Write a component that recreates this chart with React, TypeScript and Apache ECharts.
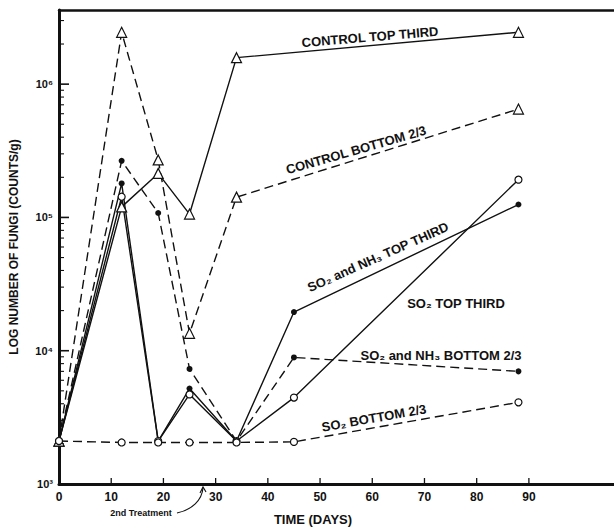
import React, { useEffect, useRef } from "react";
import * as echarts from "echarts";

// ---- data ----
const controlDays = [0, 12, 19, 25, 34, 88];
const treatedDays = [0, 12, 19, 25, 34, 45, 88];

const controlTop = [2100, 120000, 214000, 106000, 1580000, 2450000];
const controlBottom = [2100, 2450000, 270000, 13500, 142000, 650000];
const so2Nh3Top = [2100, 180000, 2100, 5200, 2100, 19500, 125000];
const so2Top = [2100, 143000, 2100, 4700, 2100, 4450, 192000];
const so2Nh3Bottom = [2100, 266000, 108000, 7300, 2100, 8900, 7000];
const so2Bottom = [2100, 2050, 2050, 2050, 2050, 2070, 4100];

const xTickDays = [10, 20, 30, 40, 50, 60, 70, 80, 90];
const yDecades = [1000, 10000, 100000, 1000000];
const yMinorMultipliers = [2, 3, 4, 5, 6, 7, 8, 9];

const Y_MIN = 1000;
const Y_MAX = 3600000;
const X_MAX = 106.3;

const FONT = "'Liberation Sans', Arial, Helvetica, sans-serif";
const INK = "#111";

const sup: Record<string, string> = { "3": "³", "4": "⁴", "5": "⁵", "6": "⁶" };

function pairs(xs: number[], ys: number[]) {
  return xs.map((x, i) => [x, ys[i]]);
}

export default function App() {
  const ref = useRef<HTMLDivElement>(null);

  useEffect(() => {
    if (!ref.current) return;
    const chart = echarts.init(ref.current, undefined, { renderer: "svg" });

    const solid = { color: INK, width: 1.4, type: "solid" as const };
    const dashed = { color: INK, width: 1.4, type: [9, 5] as any };
    const openTri = { symbol: "triangle", symbolSize: 10, itemStyle: { color: "#fff", borderColor: INK, borderWidth: 1.2 } };
    const openCirc = { symbol: "circle", symbolSize: 7, itemStyle: { color: "#fff", borderColor: INK, borderWidth: 1.2 } };
    const fillCirc = { symbol: "circle", symbolSize: 6, itemStyle: { color: INK, borderColor: INK, borderWidth: 0 } };

    // tick marks
    const yTicks: number[][] = [];
    yDecades.forEach((d) => {
      yTicks.push([0, d, 10]);
      yMinorMultipliers.forEach((m) => {
        const v = d * m;
        if (v < Y_MAX) yTicks.push([0, v, 5]);
      });
    });
    const xTicks = xTickDays.map((d) => [d, Y_MIN]);

    const textStyle = (t: string, size = 13) => ({
      text: t,
      fill: INK,
      font: `bold ${size}px ${FONT}`,
      align: "center",
      verticalAlign: "middle",
    });

    const deg = Math.PI / 180;

    chart.setOption({
      animation: false,
      backgroundColor: "#fff",
      grid: { left: 57, right: 0, top: 10, bottom: 44 },
      xAxis: [
        {
          type: "value",
          min: 0,
          max: X_MAX,
          interval: 10,
          splitLine: { show: false },
          axisTick: { show: false },
          axisLine: { show: true, lineStyle: { color: INK, width: 3 } },
          axisLabel: {
            color: INK,
            fontFamily: FONT,
            fontWeight: "bold",
            fontSize: 12,
            margin: 7,
            showMaxLabel: false,
            formatter: (v: number) => (v <= 90 ? String(v) : ""),
          },
        },
        {
          type: "value",
          position: "top",
          min: 0,
          max: X_MAX,
          splitLine: { show: false },
          axisTick: { show: false },
          axisLabel: { show: false },
          axisLine: { show: true, lineStyle: { color: INK, width: 2.5 } },
        },
      ],
      yAxis: {
        type: "log",
        logBase: 10,
        min: Y_MIN,
        max: Y_MAX,
        splitLine: { show: false },
        axisTick: { show: false },
        axisLine: { show: true, lineStyle: { color: INK, width: 3 } },
        axisLabel: {
          color: INK,
          fontFamily: FONT,
          fontWeight: "bold",
          fontSize: 11,
          margin: 6,
          showMaxLabel: false,
          formatter: (v: number) => {
            const e = Math.round(Math.log10(v));
            if (Math.abs(Math.log10(v) - e) > 0.01) return "";
            return "10" + (sup[String(e)] || "");
          },
        },
        name: "LOG NUMBER OF FUNGI (COUNTS/g)",
        nameLocation: "middle",
        nameGap: 39,
        nameRotate: 90,
        nameTextStyle: { color: INK, fontFamily: FONT, fontWeight: "bold", fontSize: 12 },
      },
      series: [
        {
          name: "yTicks",
          type: "custom",
          silent: true,
          data: yTicks,
          renderItem: (_p: any, api: any) => {
            const pt = api.coord([0, api.value(1)]);
            const len = api.value(2);
            return {
              type: "line",
              shape: { x1: pt[0], y1: pt[1], x2: pt[0] + len, y2: pt[1] },
              style: { stroke: INK, lineWidth: len > 6 ? 1.6 : 1.1 },
            };
          },
        },
        {
          name: "xTicks",
          type: "custom",
          silent: true,
          data: xTicks,
          renderItem: (_p: any, api: any) => {
            const pt = api.coord([api.value(0), Y_MIN]);
            return {
              type: "line",
              shape: { x1: pt[0], y1: pt[1], x2: pt[0], y2: pt[1] - 6 },
              style: { stroke: INK, lineWidth: 1.3 },
            };
          },
        },
        { name: "Control top third", type: "line", data: pairs(controlDays, controlTop), lineStyle: solid, ...openTri, z: 3 },
        { name: "Control bottom 2/3", type: "line", data: pairs(controlDays, controlBottom), lineStyle: dashed, ...openTri, z: 3 },
        { name: "SO2 and NH3 top third", type: "line", data: pairs(treatedDays, so2Nh3Top), lineStyle: solid, ...fillCirc, z: 3 },
        { name: "SO2 top third", type: "line", data: pairs(treatedDays, so2Top), lineStyle: solid, ...openCirc, z: 3 },
        { name: "SO2 and NH3 bottom 2/3", type: "line", data: pairs(treatedDays, so2Nh3Bottom), lineStyle: dashed, ...fillCirc, z: 3 },
        { name: "SO2 bottom 2/3", type: "line", data: pairs(treatedDays, so2Bottom), lineStyle: dashed, ...openCirc, z: 3 },
      ],
      graphic: [
        { type: "text", x: 370, y: 37, rotation: 4.8 * deg, style: textStyle("CONTROL TOP THIRD") },
        { type: "text", x: 356, y: 150, rotation: 16 * deg, style: textStyle("CONTROL BOTTOM 2/3") },
        { type: "text", x: 378, y: 257, rotation: 24 * deg, style: textStyle("SO₂ and NH₃ TOP THIRD") },
        { type: "text", x: 456, y: 303, style: textStyle("SO₂ TOP THIRD") },
        { type: "text", x: 441, y: 355, style: textStyle("SO₂ and NH₃ BOTTOM 2/3") },
        { type: "text", x: 374, y: 418, rotation: 10 * deg, style: textStyle("SO₂ BOTTOM 2/3") },
        { type: "text", x: 313, y: 519, style: textStyle("TIME (DAYS)", 13) },
        { type: "text", x: 141, y: 513, style: textStyle("2nd Treatment", 9) },
        {
          type: "bezierCurve",
          shape: { x1: 177, y1: 513, x2: 203, y2: 488, cpx1: 192, cpy1: 510, cpx2: 202, cpy2: 500 },
          style: { stroke: INK, lineWidth: 1.1, fill: "none" },
        },
        {
          type: "polyline",
          shape: { points: [[200, 493], [203, 487], [206, 492]] },
          style: { stroke: INK, lineWidth: 1.1, fill: "none" },
        },
      ],
    });

    return () => chart.dispose();
  }, []);

  return (
    <div
      ref={ref}
      style={{ position: "absolute", left: 0, top: 0, width: 614, height: 528, background: "#fff" }}
    />
  );
}
